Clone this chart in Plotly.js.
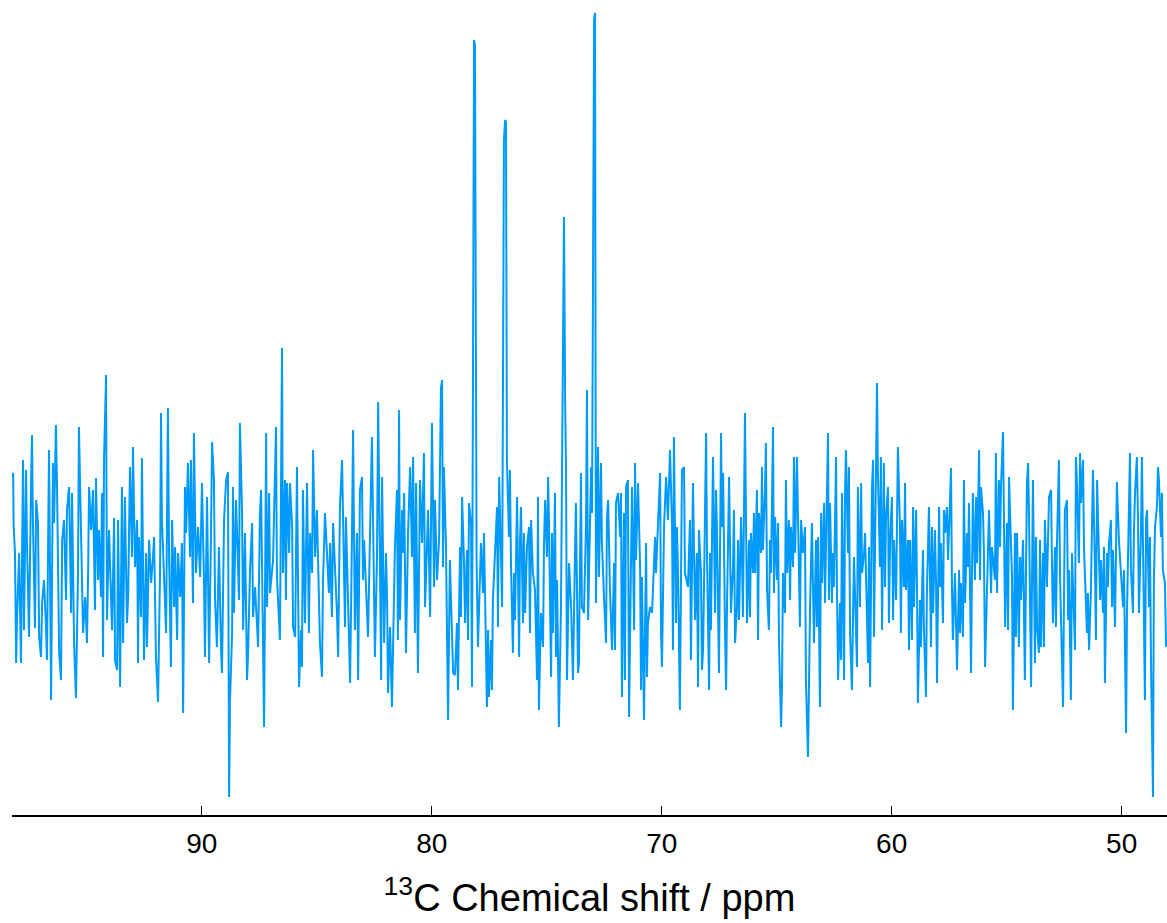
<!DOCTYPE html>
<html>
<head>
<meta charset="utf-8">
<script src="https://cdn.plot.ly/plotly-3.0.1.min.js"></script>
<style>
html,body{margin:0;padding:0;background:#fff;}
#chart{width:1167px;height:923px;}
</style>
</head>
<body>
<div id="chart"></div>
<script>
// 13C chemical shift (ppm)
const shiftPpm = [
98.25,98.20,98.18,98.12,98.07,98.03,97.94,97.86,97.81,97.77,
97.73,97.64,97.60,97.51,97.42,97.38,97.34,97.25,97.20,97.12,
97.07,96.99,96.94,96.86,96.77,96.73,96.64,96.60,96.55,96.47,
96.42,96.34,96.29,96.20,96.12,96.07,95.99,95.90,95.86,95.77,
95.68,95.64,95.55,95.47,95.38,95.34,95.25,95.16,95.07,94.99,
94.94,94.90,94.81,94.73,94.64,94.60,94.51,94.47,94.38,94.34,
94.29,94.25,94.16,94.12,94.03,93.90,93.81,93.77,93.68,93.64,
93.55,93.47,93.42,93.34,93.25,93.20,93.12,93.03,92.99,92.90,
92.81,92.77,92.73,92.64,92.60,92.51,92.42,92.38,92.29,92.20,
92.12,92.07,91.99,91.94,91.90,91.81,91.77,91.73,91.64,91.55,
91.47,91.42,91.34,91.29,91.20,91.16,91.07,91.03,90.94,90.86,
90.81,90.73,90.68,90.60,90.51,90.47,90.38,90.34,90.25,90.16,
90.07,89.99,89.90,89.86,89.77,89.68,89.60,89.55,89.47,89.42,
89.34,89.25,89.16,89.12,89.03,88.94,88.86,88.81,88.77,88.68,
88.64,88.60,88.51,88.38,88.34,88.25,88.20,88.12,88.03,87.99,
87.90,87.81,87.77,87.68,87.55,87.47,87.42,87.34,87.29,87.20,
87.16,87.07,87.03,86.90,86.86,86.77,86.73,86.60,86.51,86.47,
86.38,86.34,86.29,86.20,86.16,86.07,86.03,85.94,85.86,85.77,
85.68,85.64,85.60,85.51,85.42,85.34,85.29,85.20,85.16,85.07,
84.99,84.94,84.86,84.77,84.73,84.64,84.47,84.42,84.34,84.29,
84.12,84.07,83.99,83.90,83.77,83.73,83.55,83.47,83.42,83.34,
83.25,83.20,83.12,83.03,82.99,82.94,82.86,82.77,82.60,82.51,
82.47,82.38,82.33,82.25,82.20,82.16,82.07,81.99,81.94,81.90,
81.81,81.73,81.68,81.60,81.51,81.47,81.42,81.38,81.29,81.25,
81.20,81.12,81.03,80.94,80.86,80.81,80.73,80.68,80.60,80.51,
80.42,80.34,80.29,80.20,80.16,80.07,79.99,79.90,79.86,79.77,
79.68,79.60,79.55,79.51,79.47,79.38,79.34,79.29,79.21,79.12,
79.07,78.99,78.90,78.86,78.77,78.73,78.68,78.60,78.55,78.47,
78.42,78.38,78.29,78.25,78.16,78.12,78.05,77.99,77.90,77.86,
77.77,77.73,77.68,77.60,77.55,77.51,77.42,77.38,77.34,77.25,
77.16,77.12,77.07,76.99,76.94,76.86,76.81,76.77,76.73,76.64,
76.60,76.55,76.47,76.42,76.38,76.29,76.20,76.16,76.12,76.03,
75.99,75.94,75.86,75.77,75.73,75.68,75.60,75.51,75.42,75.38,
75.34,75.25,75.16,75.12,75.07,74.99,74.94,74.90,74.81,74.77,
74.73,74.64,74.60,74.55,74.47,74.38,74.33,74.25,74.20,74.16,
74.12,74.03,73.94,73.86,73.77,73.73,73.64,73.60,73.51,73.47,
73.38,73.29,73.25,73.20,73.12,73.07,73.03,72.94,72.90,72.86,
72.77,72.73,72.64,72.60,72.51,72.42,72.38,72.33,72.25,72.20,
72.16,72.07,72.03,71.99,71.90,71.81,71.77,71.73,71.64,71.60,
71.55,71.47,71.42,71.34,71.29,71.20,71.16,71.12,71.03,70.94,
70.90,70.86,70.77,70.68,70.64,70.60,70.51,70.42,70.34,70.29,
70.25,70.16,70.07,70.03,69.99,69.90,69.86,69.81,69.73,69.68,
69.64,69.55,69.51,69.47,69.38,69.34,69.29,69.21,69.16,69.12,
69.03,68.99,68.86,68.77,68.73,68.64,68.55,68.47,68.42,68.38,
68.29,68.25,68.20,68.12,68.07,68.03,67.94,67.90,67.86,67.77,
67.68,67.64,67.60,67.51,67.47,67.42,67.38,67.33,67.25,67.20,
67.16,67.07,66.99,66.90,66.86,66.81,66.73,66.68,66.64,66.55,
66.51,66.47,66.38,66.33,66.29,66.20,66.16,66.12,66.03,65.99,
65.94,65.86,65.81,65.77,65.68,65.64,65.60,65.51,65.47,65.42,
65.34,65.29,65.25,65.16,65.12,65.07,64.99,64.94,64.90,64.81,
64.77,64.73,64.64,64.60,64.55,64.47,64.42,64.38,64.29,64.25,
64.20,64.12,64.07,63.99,63.94,63.86,63.77,63.73,63.64,63.60,
63.55,63.47,63.42,63.38,63.29,63.25,63.20,63.12,63.07,63.03,
62.94,62.90,62.86,62.77,62.73,62.68,62.60,62.55,62.51,62.42,
62.38,62.33,62.25,62.20,62.16,62.07,62.03,61.99,61.90,61.86,
61.81,61.73,61.68,61.64,61.55,61.51,61.47,61.38,61.33,61.29,
61.20,61.16,61.12,61.03,60.99,60.94,60.86,60.81,60.77,60.68,
60.64,60.60,60.51,60.47,60.42,60.34,60.29,60.25,60.16,60.12,
60.07,59.99,59.94,59.90,59.81,59.73,59.64,59.60,59.55,59.47,
59.42,59.38,59.29,59.25,59.20,59.12,59.07,59.03,58.94,58.90,
58.86,58.77,58.73,58.64,58.60,58.51,58.47,58.38,58.33,58.29,
58.25,58.20,58.12,58.07,58.03,57.94,57.90,57.86,57.77,57.73,
57.68,57.60,57.55,57.42,57.38,57.34,57.25,57.20,57.16,57.07,
57.03,56.99,56.90,56.86,56.81,56.73,56.68,56.64,56.55,56.51,
56.47,56.38,56.33,56.29,56.20,56.16,56.12,56.03,55.99,55.94,
55.86,55.81,55.77,55.68,55.64,55.51,55.47,55.42,55.34,55.29,
55.25,55.16,55.12,55.07,54.99,54.94,54.90,54.81,54.77,54.73,
54.64,54.60,54.55,54.47,54.42,54.38,54.29,54.21,54.12,54.07,
54.03,53.94,53.90,53.86,53.77,53.73,53.68,53.60,53.55,53.51,
53.42,53.38,53.34,53.25,53.16,53.07,53.03,52.99,52.90,52.86,
52.81,52.73,52.68,52.55,52.51,52.47,52.38,52.33,52.29,52.21,
52.16,52.03,51.99,51.94,51.86,51.81,51.77,51.68,51.64,51.51,
51.47,51.42,51.34,51.29,51.25,51.16,51.12,51.07,50.99,50.94,
50.90,50.81,50.77,50.73,50.64,50.60,50.55,50.47,50.42,50.38,
50.29,50.25,50.21,50.12,50.07,49.94,49.90,49.81,49.77,49.68,
49.64,49.60,49.51,49.47,49.42,49.34,49.29,49.25,49.16,49.12,
49.07,48.99,48.94,48.90,48.81,48.77,48.73,48.64,48.60,48.55,
48.47,48.42,48.38,48.29,48.25,48.21,48.12,48.07
];

// Signal intensity (arbitrary units)
const intensity = [
83,87,35,7,-103,-57,7,-103,10,100,
-70,90,20,-77,80,125,37,-68,60,37,
-77,-97,-43,-20,-67,-100,110,-30,-140,97,
37,135,70,-93,-120,20,40,-40,50,73,
-53,67,-83,-138,-13,133,10,-73,-37,-83,
-13,73,30,70,-50,82,-20,30,-37,67,
-97,100,185,-60,30,-70,42,-100,-110,40,
-127,73,-83,63,-63,-37,93,3,113,-7,
40,-103,23,-57,102,-100,7,-87,20,-23,
3,23,-97,-120,-142,-7,147,40,-23,-73,
152,3,-107,40,-47,13,-80,7,-37,17,
-153,73,27,97,3,100,-43,127,-13,33,
-17,77,-23,-97,63,-103,23,118,80,-40,
-87,13,-90,-113,40,80,88,-237,-140,-73,
73,-53,60,-40,137,50,-70,27,-120,-97,
-10,37,-57,-27,-87,47,70,-107,-167,127,
-47,67,-33,0,37,133,-17,-80,212,-13,
80,-40,77,7,77,33,-67,-77,93,-127,
-70,-107,70,-63,77,-73,27,-13,110,3,
50,-17,-83,-117,-23,47,-33,17,-57,37,
-53,-97,53,100,-67,43,-123,20,130,-70,
27,-120,70,83,-20,20,-33,-77,123,-27,
-97,3,158,-7,-120,83,-83,7,-40,-133,
-67,-147,-67,13,70,-80,150,-60,50,7,
67,-93,27,93,3,103,-73,77,-113,80,
17,107,-47,7,50,-57,137,-27,60,-20,
20,172,180,-7,93,13,-87,-160,0,-80,
-113,-115,-63,-130,13,-57,63,0,-63,10,
-80,57,37,-127,520,515,0,-87,-27,17,
-33,27,-37,-147,-70,-137,-80,-130,-40,13,
53,-67,83,7,-47,420,440,438,97,23,
90,-7,-93,-13,-60,63,-97,20,53,-63,
27,-53,13,33,-73,40,-13,-30,-120,63,
-150,-53,-87,13,60,3,83,33,-117,27,
-73,67,-97,-20,-167,-47,110,343,160,87,
-120,-3,-47,-120,7,57,-113,-103,87,-47,
-53,37,170,-60,33,93,47,540,547,-43,
113,-17,97,17,-37,-83,43,60,-30,-77,
-90,-3,-90,57,67,23,67,-137,47,-120,
73,80,-157,-10,73,-70,97,0,77,-7,
-130,-17,-160,17,-117,-63,-47,-53,-10,23,
-13,40,87,-73,-107,33,60,83,40,87,
110,33,-90,123,-63,33,-13,-150,-27,90,
93,-13,-27,40,-100,77,-60,7,-127,30,
-13,-110,-90,23,127,3,-130,7,-70,103,
-53,70,33,-113,40,127,33,87,-67,-130,
-43,83,-53,-7,50,-83,-47,20,-60,43,
7,-57,147,-13,-63,20,-57,27,-13,47,
-13,70,-80,47,7,93,10,70,117,-30,
-70,20,-13,133,-33,43,-20,37,-83,-167,
-127,-13,-53,80,-13,40,-40,33,-7,103,
7,103,30,-67,40,7,33,-120,-197,-97,
-47,37,-27,-83,20,-67,23,-147,47,-23,
57,-43,10,127,-40,57,-43,7,-27,103,
-30,-120,-43,-100,67,-120,67,110,7,93,
-73,-130,-53,3,-73,-107,73,-47,77,-13,
7,27,-13,-103,13,-127,70,100,-77,107,
177,87,-7,103,-70,97,-27,40,73,-63,
20,63,-60,20,-40,113,33,-73,40,-27,
77,-30,20,-90,20,-80,53,-47,50,-27,
-143,-40,-87,10,-67,-137,-33,53,-53,-87,
33,-53,30,-27,-123,53,-27,17,-63,50,
27,53,0,92,-27,-80,-13,-67,-110,-10,
-73,-23,-77,80,-43,27,-7,57,-113,-13,
67,-20,63,-3,110,-20,73,47,7,-107,
-33,30,50,-33,13,-20,107,-33,80,13,
73,128,47,-67,37,-70,83,20,-17,-150,
27,-77,27,-87,3,-40,20,-120,77,97,
43,-127,13,80,-103,23,-67,-93,20,-87,
7,-87,40,-27,63,70,-7,-63,13,-67,
20,100,-17,-147,-40,50,60,-60,-10,-140,
7,-90,103,73,-3,107,57,100,13,-73,
-33,-90,-33,37,90,-10,-80,80,-17,-40,
0,-53,13,-123,7,-27,17,40,-47,10,
-67,-13,78,20,0,-47,-10,-173,-53,47,
107,-7,-53,27,67,103,40,-53,30,103,
23,-140,40,50,-47,23,-93,-237,-20,33,
53,93,80,23,67,-10,-23,-87
];

const tickValues = [90, 80, 70, 60, 50];
const axisTitle = '<sup>13</sup>C Chemical shift / ppm';

const fontFamily = '"Liberation Sans", Arial, Helvetica, sans-serif';

Plotly.newPlot('chart', [{
  x: shiftPpm,
  y: intensity,
  type: 'scatter',
  mode: 'lines',
  line: {color: '#009AFA', width: 2},
  hoverinfo: 'x+y'
}], {
  width: 1167,
  height: 923,
  margin: {l: 12, r: 0, t: 0, b: 108},
  paper_bgcolor: '#ffffff',
  plot_bgcolor: '#ffffff',
  showlegend: false,
  font: {family: fontFamily, color: '#000000'},
  xaxis: {
    range: [98.25, 48.03],
    showline: true,
    linecolor: '#000000',
    linewidth: 1.5,
    ticks: 'inside',
    ticklen: 9,
    tickwidth: 1.5,
    tickcolor: '#000000',
    tickmode: 'array',
    tickvals: tickValues,
    ticktext: tickValues.map(String),
    ticklabelstandoff: 3,
    tickfont: {family: fontFamily, size: 28, color: '#000000'},
    showgrid: false,
    zeroline: false,
    title: {text: axisTitle, font: {family: fontFamily, size: 38, color: '#000000'}, standoff: 26}
  },
  yaxis: {
    visible: false,
    range: [-255, 560],
    showgrid: false,
    zeroline: false
  }
}, {displayModeBar: false, staticPlot: true});
</script>
</body>
</html>
